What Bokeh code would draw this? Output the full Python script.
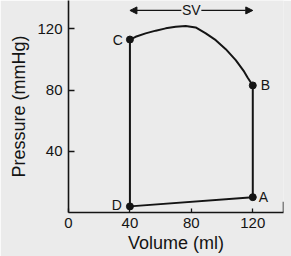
from bokeh.plotting import figure
from bokeh.models import Range1d, FixedTicker, Arrow, NormalHead, Label, ColumnDataSource
from bokeh.embed import file_html
from bokeh.resources import INLINE

# ---- data ----
point_names = ["A", "B", "C", "D"]
point_volume = [120, 120, 40, 40]        # ml
point_pressure = [10, 83, 113, 4]        # mmHg

# ejection curve from C to B
eject_volume = [40, 43.7, 50.2, 56.8, 63.3, 69.8, 76.3, 82.8, 89.4, 95.9, 102.4, 108.9, 114.4, 116.6, 120]
eject_pressure = [113, 114.8, 117, 118.8, 120.3, 121.4, 121.9, 120.9, 117, 112.6, 106.7, 99.5, 92, 88.2, 83]

x_ticks = [0, 40, 80, 120]
y_ticks = [40, 80, 120]
sv_label = "SV"

FONT = "Liberation Sans"
INK = "#141414"
BG = "#ebebeb"

x_end = 140
y_end = 138.5

p = figure(width=291, height=256, output_backend="svg", toolbar_location=None,
           x_range=Range1d(0, x_end), y_range=Range1d(0, y_end),
           min_border_left=68, min_border_right=8, min_border_top=0, min_border_bottom=44)
p.background_fill_color = BG
p.border_fill_color = BG
p.outline_line_color = None
p.grid.visible = False

# axes
p.xaxis.ticker = FixedTicker(ticks=x_ticks)
p.yaxis.ticker = FixedTicker(ticks=y_ticks)
for ax in (p.xaxis[0], p.yaxis[0]):
    ax.axis_line_color = INK
    ax.axis_line_width = 1.6
    ax.major_tick_line_color = INK
    ax.major_tick_line_width = 1.3
    ax.major_tick_out = 0
    ax.minor_tick_line_color = None
    ax.major_label_text_font = FONT
    ax.major_label_text_font_size = "15px"
    ax.major_label_text_color = INK
    ax.axis_label_text_font = FONT
    ax.axis_label_text_font_size = "18px"
    ax.axis_label_text_font_style = "normal"
    ax.axis_label_text_color = INK
p.xaxis.major_tick_in = 4
p.yaxis.major_tick_in = 6
p.xaxis.major_label_standoff = 5
p.yaxis.major_label_standoff = 6
p.xaxis.axis_label = "Volume (ml)"
p.yaxis.axis_label = "Pressure (mmHg)"
p.xaxis.axis_label_standoff = 2
p.yaxis.axis_label_standoff = 5

# end mark at the right end of the volume axis
p.segment(x0=[x_end], y0=[0], x1=[x_end], y1=[7], line_color=INK, line_width=1.5)

# loop: D -> A -> B (vertical), ejection curve B..C, C -> D
iA, iB, iC, iD = 0, 1, 2, 3
p.line([point_volume[iD], point_volume[iA], point_volume[iB]],
       [point_pressure[iD], point_pressure[iA], point_pressure[iB]],
       line_color=INK, line_width=2, line_join="round")
p.line(eject_volume, eject_pressure, line_color=INK, line_width=2, line_join="round")
p.line([point_volume[iC], point_volume[iD]], [point_pressure[iC], point_pressure[iD]],
       line_color=INK, line_width=2)

src = ColumnDataSource(dict(x=point_volume, y=point_pressure, name=point_names))
p.scatter("x", "y", source=src, size=7, fill_color=INK, line_color=INK)

# point labels
offsets = {"A": (6, 0, "left"), "B": (8, 0, "left"), "C": (-7, 0, "right"), "D": (-8, 1, "right")}
for n, vx, vy in zip(point_names, point_volume, point_pressure):
    dx, dy, align = offsets[n]
    p.add_layout(Label(x=vx, y=vy, text=n, x_offset=dx, y_offset=dy, text_align=align,
                       text_baseline="middle", text_font=FONT, text_font_size="14px",
                       text_color=INK))

# stroke volume arrow
sv_y = 132
sv_mid = (point_volume[iB] + point_volume[iC]) / 2
gap = 6.5
head = dict(size=7, fill_color=INK, line_color=INK, line_width=1)
p.add_layout(Arrow(x_start=sv_mid - gap, y_start=sv_y, x_end=point_volume[iC], y_end=sv_y,
                   line_color=INK, line_width=1.3, end=NormalHead(**head)))
p.add_layout(Arrow(x_start=sv_mid + gap, y_start=sv_y, x_end=point_volume[iB], y_end=sv_y,
                   line_color=INK, line_width=1.3, end=NormalHead(**head)))
p.add_layout(Label(x=sv_mid, y=sv_y, text=sv_label, text_align="center", text_baseline="middle",
                   text_font=FONT, text_font_size="14px", text_color=INK))

open("out.html", "w").write(file_html(p, INLINE))
